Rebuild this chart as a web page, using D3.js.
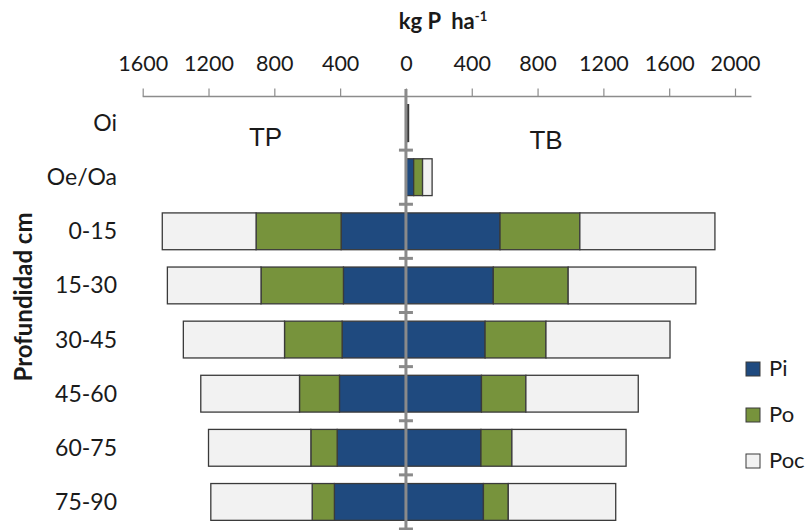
<!DOCTYPE html>
<html>
<head>
<meta charset="utf-8">
<script src="https://cdn.jsdelivr.net/npm/d3@7"></script>
<style>
  html, body { margin: 0; padding: 0; background: #fff; }
  svg { display: block; }
  text { font-family: Lato, "Open Sans", sans-serif; fill: #1a1a1a; }
</style>
</head>
<body>
<svg id="chart" width="809" height="530"></svg>
<script>
const categories = ["Oi", "Oe/Oa", "0-15", "15-30", "30-45", "45-60", "60-75", "75-90"];
const seriesNames = ["Pi", "Po", "Poc"];
// TP (left side)
const tpPi  = [0, 0, 394, 380, 388, 404, 418, 435];
const tpPo  = [0, 0, 517, 501, 350, 243, 160, 135];
const tpPoc = [0, 0, 570, 569, 615, 600, 622, 616];
// TB (right side)
const tbPi  = [6, 47, 572, 531, 481, 459, 456, 471];
const tbPo  = [4, 54, 485, 455, 370, 270, 188, 151];
const tbPoc = [6, 58, 821, 776, 754, 683, 694, 653];
const tickValues = [-1600, -1200, -800, -400, 0, 400, 800, 1200, 1600, 2000];

const colors = { Pi: "#1f4a7f", Po: "#77933c", Poc: "#f2f2f2" };

const svg = d3.select("#chart");

const x = d3.scaleLinear().domain([-1600, 2000]).range([142.7, 735]);
const y = d3.scaleBand().domain(categories).range([96, 529]).paddingInner(0.32).paddingOuter(0.16);

// build stacked segments
const rows = categories.map((c, i) => ({
  cat: c,
  tp: { Pi: tpPi[i], Po: tpPo[i], Poc: tpPoc[i] },
  tb: { Pi: tbPi[i], Po: tbPo[i], Poc: tbPoc[i] }
}));
const segs = [];
rows.forEach(r => {
  let cumL = 0, cumR = 0;
  seriesNames.forEach(s => {
    if (r.tp[s] > 0) { segs.push({ cat: r.cat, s, x0: -(cumL + r.tp[s]), x1: -cumL }); }
    cumL += r.tp[s];
    if (r.tb[s] > 0) { segs.push({ cat: r.cat, s, x0: cumR, x1: cumR + r.tb[s] }); }
    cumR += r.tb[s];
  });
});

svg.append("g").selectAll("rect").data(segs).join("rect")
  .attr("x", d => x(d.x0))
  .attr("width", d => x(d.x1) - x(d.x0))
  .attr("y", d => y(d.cat))
  .attr("height", y.bandwidth())
  .attr("fill", d => colors[d.s])
  .attr("stroke", "#3a3a3a")
  .attr("stroke-width", 1.3);

// top axis
const axisY = 96.5;
const axis = d3.axisTop(x).tickValues(tickValues).tickFormat(d => Math.abs(d)).tickSize(8).tickPadding(18);
const gAx = svg.append("g").attr("transform", `translate(0,${axisY})`).call(axis);
gAx.select(".domain").remove();
gAx.insert("line", ":first-child").attr("x1", x(-1600)).attr("x2", x(2100)).attr("y1", 0).attr("y2", 0)
  .attr("stroke", "#8c8c8c").attr("stroke-width", 1.5);
gAx.selectAll(".tick line").attr("stroke", "#8c8c8c").attr("stroke-width", 1.2);
gAx.selectAll(".tick text").attr("font-size", 21.5).attr("fill", "#1a1a1a")
  .style("font-family", "Lato, sans-serif");

// zero vertical line with category ticks
const zx = x(0);
svg.append("line").attr("x1", zx).attr("x2", zx).attr("y1", 89).attr("y2", 530)
  .attr("stroke", "#8a8a8a").attr("stroke-width", 3);
const bounds = categories.map(c => y(c) - y.step() * y.paddingInner() / 2).concat([y(categories[categories.length - 1]) + y.bandwidth() + y.step() * y.paddingInner() / 2]);
svg.append("g").selectAll("line").data(bounds.slice(1)).join("line")
  .attr("x1", zx - 7).attr("x2", zx + 7).attr("y1", d => d).attr("y2", d => d)
  .attr("stroke", "#8a8a8a").attr("stroke-width", 3);

// category labels
svg.append("g").selectAll("text").data(categories).join("text")
  .attr("x", 117).attr("y", d => y(d) + y.bandwidth() / 2)
  .attr("dy", "0.35em").attr("text-anchor", "end").attr("font-size", 23)
  .text(d => d);

// axis titles
const t = svg.append("text").attr("x", 443).attr("y", 29).attr("text-anchor", "middle")
  .attr("font-size", 22).attr("font-weight", "bold");
t.append("tspan").text("kg P\u00a0\u00a0ha");
t.append("tspan").attr("font-size", 13).attr("dy", -8).text("-1");

svg.append("text").attr("transform", "translate(32,297) rotate(-90)").attr("text-anchor", "middle")
  .attr("font-size", 24).attr("font-weight", "bold").text("Profundidad cm");

// TP / TB labels
svg.append("text").attr("x", 265.5).attr("y", 146).attr("text-anchor", "middle")
  .attr("font-size", 26).style("font-family", "'Liberation Sans', Arial, sans-serif").text("TP");
svg.append("text").attr("x", 546).attr("y", 149).attr("text-anchor", "middle")
  .attr("font-size", 26).style("font-family", "'Liberation Sans', Arial, sans-serif").text("TB");

// legend
const legTop = [362, 408, 454];
const lg = svg.append("g").selectAll("g").data(seriesNames).join("g")
  .attr("transform", (d, i) => `translate(746,${legTop[i]})`);
lg.append("rect").attr("width", 14).attr("height", 14)
  .attr("fill", d => colors[d]).attr("stroke", "#3a3a3a").attr("stroke-width", 1);
lg.append("text").attr("x", 23).attr("y", 14).attr("font-size", 22).text(d => d);
</script>
</body>
</html>
